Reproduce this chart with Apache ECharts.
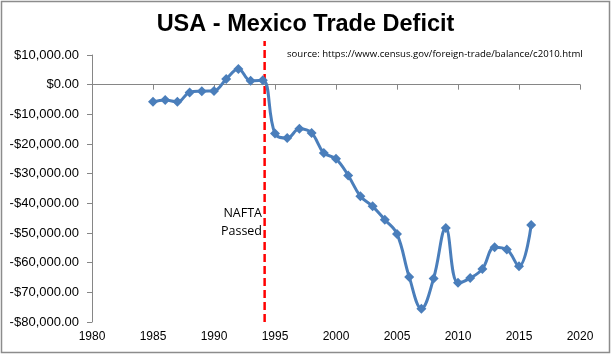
<!DOCTYPE html>
<html>
<head>
<meta charset="utf-8">
<script src="https://cdn.jsdelivr.net/npm/echarts@6/dist/echarts.min.js"></script>
<style>html,body{margin:0;padding:0;background:#fff}#c{width:611px;height:357px}</style>
</head>
<body>
<div id="c"></div>
<script>
var years = [1985,1986,1987,1988,1989,1990,1991,1992,1993,1994,1995,1996,1997,1998,1999,2000,2001,2002,2003,2004,2005,2006,2007,2008,2009,2010,2011,2012,2013,2014,2015,2016];
var balance = [-5800,-5200,-5800,-2600,-2200,-2100,1900,5300,1300,1500,-16500,-18000,-14900,-16300,-23000,-25000,-30600,-37600,-41000,-45500,-50300,-64800,-75500,-65300,-48300,-66800,-65200,-62100,-54800,-55600,-61200,-47300];
var naftaYear = 1994.15;
var titleText = 'USA - Mexico Trade Deficit';
var sourceText = 'source: https://www.census.gov/foreign-trade/balance/c2010.html';
var naftaLabel = 'NAFTA\nPassed';

function money(v){
  var s = Math.abs(v).toFixed(2).replace(/\B(?=(\d{3})+(?!\d))/g, ',');
  return (v < 0 ? '-$' : '$') + s;
}

var chart = echarts.init(document.getElementById('c'), null, {renderer:'canvas'});
chart.setOption({
  animation: false,
  backgroundColor: '#fff',
  title: [
    {text: titleText, left: 'center', top: 13, padding: 0,
     textStyle: {fontFamily: 'Liberation Sans, Arial', fontSize: 23.5, fontWeight: 'bold', color: '#000'}},
    {text: sourceText, left: 287, top: 49, padding: 0,
     textStyle: {fontFamily: 'Open Sans', fontSize: 9.6, fontWeight: 'normal', color: '#000'}}
  ],
  graphic: [
    {type: 'rect', shape: {x: 1.5, y: 1.5, width: 608, height: 351}, style: {fill: null, stroke: '#8c8c8c', lineWidth: 1.5}, silent: true},
    {type: 'text', x: 262, y: 204, style: {text: naftaLabel, align: 'right', fontFamily: 'Open Sans', fontSize: 12.5, lineHeight: 18, fill: '#000'}}
  ],
  grid: [
    {left: 92, right: 31, top: 55, bottom: 35},
    {left: 92, right: 31, top: 41, bottom: 35}
  ],
  xAxis: [
    {type: 'value', gridIndex: 0, min: 1980, max: 2020, interval: 5,
     axisLine: {show: false, onZero: false}, axisTick: {show: false}, splitLine: {show: false},
     axisLabel: {formatter: function(v){ return String(v); }, fontFamily: 'Liberation Sans, Arial', fontSize: 12, color: '#000', margin: 9}},
    {type: 'value', gridIndex: 0, position: 'top', min: 1980, max: 2020, interval: 5,
     axisLine: {show: true, onZero: true, lineStyle: {color: '#868686', width: 1}},
     axisTick: {show: true, inside: true, length: 5, lineStyle: {color: '#868686'}},
     axisLabel: {show: false}, splitLine: {show: false}},
    {type: 'value', gridIndex: 1, show: false, min: 1980, max: 2020}
  ],
  yAxis: [
    {type: 'value', gridIndex: 0, min: -80000, max: 10000, interval: 10000,
     axisLine: {show: true, lineStyle: {color: '#868686', width: 1}},
     axisTick: {show: true, length: 5, lineStyle: {color: '#868686'}},
     splitLine: {show: false},
     axisLabel: {formatter: money, fontFamily: 'Liberation Sans, Arial', fontSize: 13, color: '#000', margin: 13}},
    {type: 'value', gridIndex: 1, show: false, min: 0, max: 1}
  ],
  series: [
    {
      type: 'line', xAxisIndex: 2, yAxisIndex: 1,
      data: [[naftaYear, 0], [naftaYear, 1]],
      symbol: 'none', silent: true, z: 1,
      lineStyle: {color: '#FF0000', width: 2.5, type: [8, 4]}
    },
    {
      type: 'line', xAxisIndex: 0, yAxisIndex: 0,
      data: years.map(function(y, i){ return [y, balance[i]]; }),
      smooth: 0.4,
      symbol: 'diamond', symbolSize: 10,
      lineStyle: {color: '#4A7EBB', width: 3},
      itemStyle: {color: '#4A7EBB'},
      z: 3
    }
  ]
});
</script>
</body>
</html>
